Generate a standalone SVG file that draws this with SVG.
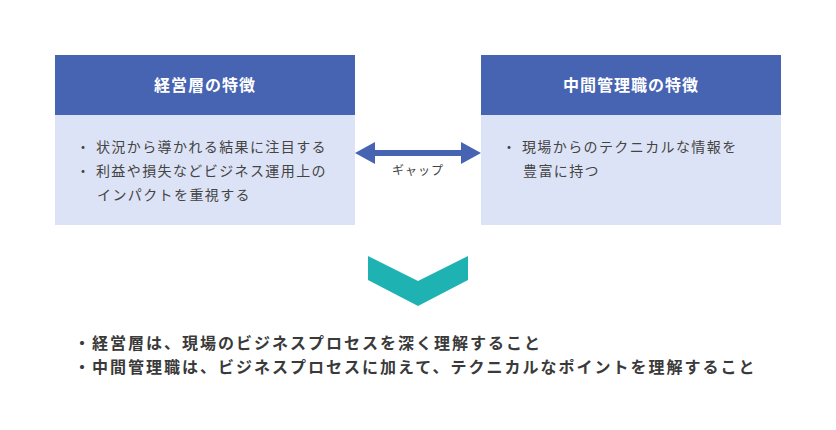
<svg xmlns="http://www.w3.org/2000/svg" width="836" height="430" viewBox="0 0 836 430">
<style>
.hd{fill:#4764b3}.bd{fill:#dde3f6}
.ht{font-family:"Noto Sans CJK JP",sans-serif;font-size:16px;font-weight:bold;fill:#fff;text-anchor:middle;letter-spacing:1px}
.bt{font-family:"Noto Sans CJK JP",sans-serif;font-size:14px;fill:#444;letter-spacing:1.4px}
.ft{font-family:"Noto Sans CJK JP",sans-serif;font-size:16px;font-weight:bold;fill:#3a3a3a;letter-spacing:2px}
</style>
<rect width="836" height="430" fill="#fff"/>
<g id="left">
<rect class="hd" x="55" y="55" width="300" height="60"/>
<rect class="bd" x="55" y="115" width="300" height="110"/>
<text class="ht" x="205" y="91">経営層の特徴</text>
<text class="bt" x="76" y="152">・ 状況から導かれる結果に注目する</text>
<text class="bt" x="76" y="176">・ 利益や損失などビジネス運用上の</text>
<text class="bt" x="97" y="200">インパクトを重視する</text>
</g>
<g id="right">
<rect class="hd" x="481" y="55" width="300" height="60"/>
<rect class="bd" x="481" y="115" width="300" height="110"/>
<text class="ht" x="631" y="91">中間管理職の特徴</text>
<text class="bt" x="502" y="152">・ 現場からのテクニカルな情報を</text>
<text class="bt" x="523" y="176">豊富に持つ</text>
</g>
<g id="connectors">
<polygon fill="#4764b3" points="355,153 375,142 375,150 461,150 461,142 481,153 461,164 461,156 375,156 375,164"/>
<text x="418" y="175" font-family="'Noto Sans CJK JP',sans-serif" font-size="12" fill="#444" text-anchor="middle" letter-spacing="1">ギャップ</text>
<polygon fill="#1fb2b3" points="368,256 418,281 468,256 468,280 418,306 368,280"/>
</g>
<g id="summary">
<text class="ft" x="74" y="349">・経営層は、現場のビジネスプロセスを深く理解すること</text>
<text class="ft" x="74" y="373">・中間管理職は、ビジネスプロセスに加えて、テクニカルなポイントを理解すること</text>
</g>
</svg>
